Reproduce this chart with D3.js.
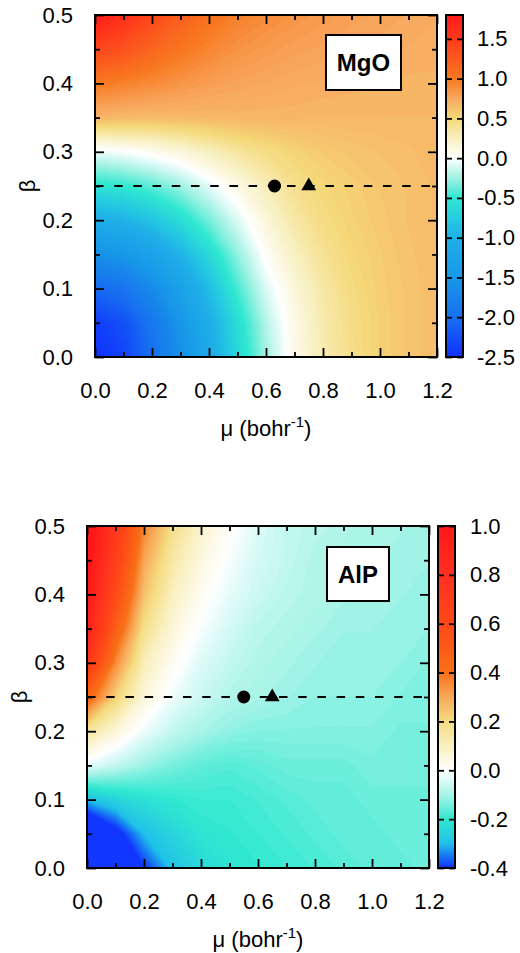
<!DOCTYPE html>
<html>
<head>
<meta charset="utf-8">
<script src="https://cdn.jsdelivr.net/npm/d3@7"></script>
<style>
  body { margin: 0; background: #fff; }
  text { font-family: "Liberation Sans", Arial, Helvetica, sans-serif; }
</style>
</head>
<body>
<svg id="chart" width="520" height="953"></svg>
<script>
// ---------------- DATA ----------------
const muValues   = [0.0, 0.1, 0.2, 0.3, 0.4, 0.5, 0.6, 0.7, 0.8, 0.9, 1.0, 1.1, 1.2];
const betaValues = [0.00, 0.05, 0.10, 0.15, 0.20, 0.25, 0.30, 0.35, 0.40, 0.45, 0.50];

// rows: beta = 0.00 ... 0.50, columns: mu = 0.0 ... 1.2
const mgoValues = [
  [-2.50, -2.35, -2.00, -1.60, -1.10, -0.65, -0.25, 0.08, 0.30, 0.44, 0.54, 0.60, 0.64],
  [-2.40, -2.25, -1.92, -1.52, -1.05, -0.60, -0.20, 0.10, 0.31, 0.45, 0.54, 0.60, 0.64],
  [-2.05, -1.95, -1.68, -1.30, -0.88, -0.45, -0.10, 0.15, 0.34, 0.47, 0.55, 0.60, 0.64],
  [-1.60, -1.50, -1.28, -0.98, -0.63, -0.28,  0.03, 0.24, 0.40, 0.50, 0.56, 0.61, 0.64],
  [-1.05, -0.98, -0.82, -0.60, -0.35, -0.10,  0.15, 0.34, 0.46, 0.53, 0.58, 0.62, 0.65],
  [-0.55, -0.50, -0.40, -0.26, -0.08,  0.10,  0.27, 0.42, 0.50, 0.55, 0.59, 0.62, 0.65],
  [-0.06, -0.02,  0.05,  0.14,  0.25,  0.36,  0.45, 0.52, 0.57, 0.60, 0.62, 0.64, 0.66],
  [ 0.68,  0.66,  0.65,  0.66,  0.67,  0.68,  0.68, 0.68, 0.67, 0.67, 0.67, 0.67, 0.67],
  [ 1.00,  0.95,  0.90,  0.85,  0.80,  0.77,  0.75, 0.73, 0.72, 0.71, 0.70, 0.69, 0.69],
  [ 1.40,  1.30,  1.15,  1.02,  0.93,  0.86,  0.82, 0.79, 0.77, 0.75, 0.74, 0.72, 0.71],
  [ 1.80,  1.60,  1.40,  1.20,  1.06,  0.96,  0.90, 0.85, 0.82, 0.79, 0.77, 0.75, 0.73]
];

const alpValues = [
  [-0.58, -0.55, -0.40, -0.29, -0.24, -0.21, -0.20, -0.19, -0.18, -0.17, -0.16, -0.16, -0.15],
  [-0.56, -0.43, -0.30, -0.25, -0.21, -0.20, -0.19, -0.18, -0.17, -0.16, -0.16, -0.15, -0.15],
  [-0.30, -0.25, -0.22, -0.20, -0.19, -0.19, -0.18, -0.17, -0.16, -0.16, -0.15, -0.15, -0.15],
  [-0.03, -0.07, -0.11, -0.14, -0.16, -0.17, -0.16, -0.15, -0.15, -0.15, -0.14, -0.14, -0.14],
  [ 0.16,  0.06, -0.02, -0.07, -0.10, -0.12, -0.13, -0.13, -0.13, -0.13, -0.13, -0.14, -0.14],
  [ 0.45,  0.22,  0.06, -0.02, -0.06, -0.09, -0.10, -0.11, -0.12, -0.12, -0.12, -0.13, -0.13],
  [ 0.72,  0.35,  0.11,  0.02, -0.04, -0.07, -0.09, -0.10, -0.11, -0.12, -0.12, -0.12, -0.13],
  [ 0.90,  0.48,  0.18,  0.06, -0.01, -0.05, -0.08, -0.09, -0.10, -0.11, -0.11, -0.12, -0.12],
  [ 0.98,  0.58,  0.25,  0.10,  0.02, -0.03, -0.06, -0.08, -0.09, -0.10, -0.11, -0.11, -0.12],
  [ 1.02,  0.66,  0.30,  0.14,  0.05, -0.01, -0.05, -0.07, -0.09, -0.10, -0.10, -0.11, -0.11],
  [ 1.05,  0.72,  0.36,  0.19,  0.08,  0.01, -0.04, -0.07, -0.08, -0.09, -0.10, -0.10, -0.11]
];

const muTickLabels   = ["0.0", "0.2", "0.4", "0.6", "0.8", "1.0", "1.2"];
const betaTickLabels = ["0.0", "0.1", "0.2", "0.3", "0.4", "0.5"];
const mgoBarLabels   = ["-2.5", "-2.0", "-1.5", "-1.0", "-0.5", "0.0", "0.5", "1.0", "1.5"];
const alpBarLabels   = ["-0.4", "-0.2", "0.0", "0.2", "0.4", "0.6", "0.8", "1.0"];
const mgoBarRange    = [-2.5, 1.8];
const alpBarRange    = [-0.4, 1.0];

const lineBeta       = 0.25;
const mgoCircleMu    = 0.63;
const mgoTriangleMu  = 0.75;
const alpCircleMu    = 0.55;
const alpTriangleMu  = 0.65;

const panelNames = ["MgO", "AlP"];

// ---------------- STYLE / LAYOUT ----------------
const mgoPalette = [
  [-2.5, "#1030ff"], [-2.0, "#1870f0"], [-1.5, "#1898e8"], [-1.0, "#20b0e8"],
  [-0.75, "#26cce0"], [-0.5, "#30e8d0"], [-0.25, "#a0f2e4"], [0.0, "#ffffff"],
  [0.25, "#f8f0c0"], [0.5, "#f5d878"], [0.75, "#f8a860"], [1.0, "#f87820"],
  [1.5, "#ff3a1c"], [1.8, "#ff1a1a"]
];
const alpPalette = [
  [-0.4, "#1030ff"], [-0.3, "#20c0e8"], [-0.2, "#30e8d0"], [-0.1, "#a8f4e8"],
  [0.0, "#ffffff"], [0.1, "#faf0c0"], [0.2, "#f5dc80"], [0.3, "#f8a858"],
  [0.4, "#f87018"], [0.6, "#ff4818"], [0.8, "#ff3020"], [1.0, "#ff1818"]
];

const svg = d3.select("#chart");
svg.append("rect").attr("width", 520).attr("height", 953).attr("fill", "#fff");

const panels = [
  { name: panelNames[0], grid: mgoValues, range: mgoBarRange, labels: mgoBarLabels, palette: mgoPalette,
    circleMu: mgoCircleMu, triMu: mgoTriangleMu,
    left: 95, top: 15, size: 342, cbX: 446, cbW: 17, cbPad: 14, betaX: 27,
    box: [231, 20, 75, 55] },
  { name: panelNames[1], grid: alpValues, range: alpBarRange, labels: alpBarLabels, palette: alpPalette,
    circleMu: alpCircleMu, triMu: alpTriangleMu,
    left: 87, top: 526, size: 342, cbX: 438, cbW: 17, cbPad: 15, betaX: 19,
    box: [240, 21, 62, 54] }
];

const FS = 22;

panels.forEach((p, pi) => {
  const x = d3.scaleLinear().domain([0, 1.2]).range([p.left, p.left + p.size]);
  const y = d3.scaleLinear().domain([0, 0.5]).range([p.top + p.size, p.top]);
  const color = d3.scaleLinear()
    .domain(p.palette.map(d => d[0]))
    .range(p.palette.map(d => d[1]))
    .interpolate(d3.interpolateRgb)
    .clamp(true);

  const g = svg.append("g");
  const clipId = "clip" + pi;
  svg.append("clipPath").attr("id", clipId)
    .append("rect").attr("x", p.left).attr("y", p.top).attr("width", p.size).attr("height", p.size);

  // ---- heat map via d3.contours ----
  const nx = muValues.length, ny = betaValues.length;
  const flat = [];
  for (let j = 0; j < ny; j++) for (let i = 0; i < nx; i++) flat.push(p.grid[j][i]);
  const lo = p.range[0], hi = p.range[1];
  const N = 160;
  const step = (hi - lo) / N;
  const base = Math.min(d3.min(flat), lo) - 1;
  const ts = [base].concat(d3.range(1, N).map(k => lo + k * step));
  const contours = d3.contours().size([nx, ny]).smooth(true).thresholds(ts)(flat);
  const dmu = muValues[1] - muValues[0];
  const dbeta = betaValues[1] - betaValues[0];
  const proj = d3.geoTransform({
    point: function (gx, gy) {
      this.stream.point(x(muValues[0] + (gx - 0.5) * dmu), y(betaValues[0] + (gy - 0.5) * dbeta));
    }
  });
  const path = d3.geoPath(proj);
  g.append("g").attr("clip-path", `url(#${clipId})`)
    .selectAll("path").data(contours).join("path")
    .attr("d", path)
    .attr("fill", (d, k) => color(k === 0 ? lo + step / 2 : d.value + step / 2))
    .attr("stroke", (d, k) => color(k === 0 ? lo + step / 2 : d.value + step / 2))
    .attr("stroke-width", 0.4);

  // ---- dashed line and markers ----
  g.append("line")
    .attr("x1", x(0)).attr("x2", x(1.2))
    .attr("y1", y(lineBeta)).attr("y2", y(lineBeta))
    .attr("stroke", "#000").attr("stroke-width", 2)
    .attr("stroke-dasharray", "8.5,10.7");
  g.append("circle")
    .attr("cx", x(p.circleMu)).attr("cy", y(lineBeta)).attr("r", 6.5).attr("fill", "#000");
  g.append("path")
    .attr("d", d3.symbol(d3.symbolTriangle).size(95)())
    .attr("transform", `translate(${x(p.triMu)},${y(lineBeta)})`)
    .attr("fill", "#000");

  // ---- axes (inward ticks on all sides) ----
  const majorMu = muTickLabels.map(Number);
  const minorMu = d3.range(0.1, 1.2, 0.2);
  const majorBeta = betaTickLabels.map(Number);
  const minorBeta = d3.range(0.05, 0.5, 0.1);
  const tickStyle = sel => {
    sel.select(".domain").remove();
    sel.selectAll("line").attr("stroke", "#000").attr("stroke-width", 1.8);
    sel.selectAll("text").attr("font-size", FS).attr("fill", "#000")
      .style("font-family", '"Liberation Sans", Arial, sans-serif');
  };
  const B = p.top + p.size, T = p.top, L = p.left, R = p.left + p.size;

  g.append("g").attr("transform", `translate(0,${B})`)
    .call(d3.axisBottom(x).tickValues(majorMu).tickFormat((d, i) => muTickLabels[i])
      .tickSizeInner(-9).tickSizeOuter(0).tickPadding(25.4)).call(tickStyle);
  g.append("g").attr("transform", `translate(0,${B})`)
    .call(d3.axisBottom(x).tickValues(minorMu).tickFormat("").tickSizeInner(-5).tickSizeOuter(0)).call(tickStyle);
  g.append("g").attr("transform", `translate(0,${T})`)
    .call(d3.axisTop(x).tickValues(majorMu).tickFormat("").tickSizeInner(-9).tickSizeOuter(0)).call(tickStyle);
  g.append("g").attr("transform", `translate(0,${T})`)
    .call(d3.axisTop(x).tickValues(minorMu).tickFormat("").tickSizeInner(-5).tickSizeOuter(0)).call(tickStyle);

  g.append("g").attr("transform", `translate(${L},0)`)
    .call(d3.axisLeft(y).tickValues(majorBeta).tickFormat((d, i) => betaTickLabels[i])
      .tickSizeInner(-9).tickSizeOuter(0).tickPadding(22)).call(tickStyle);
  g.append("g").attr("transform", `translate(${L},0)`)
    .call(d3.axisLeft(y).tickValues(minorBeta).tickFormat("").tickSizeInner(-5).tickSizeOuter(0)).call(tickStyle);
  g.append("g").attr("transform", `translate(${R},0)`)
    .call(d3.axisRight(y).tickValues(majorBeta).tickFormat("").tickSizeInner(-9).tickSizeOuter(0)).call(tickStyle);
  g.append("g").attr("transform", `translate(${R},0)`)
    .call(d3.axisRight(y).tickValues(minorBeta).tickFormat("").tickSizeInner(-5).tickSizeOuter(0)).call(tickStyle);

  // frame
  g.append("rect").attr("x", L).attr("y", T).attr("width", p.size).attr("height", p.size)
    .attr("fill", "none").attr("stroke", "#000").attr("stroke-width", 2);

  // ---- label box ----
  g.append("rect")
    .attr("x", L + p.box[0]).attr("y", T + p.box[1]).attr("width", p.box[2]).attr("height", p.box[3])
    .attr("fill", "#fff").attr("stroke", "#000").attr("stroke-width", 2);
  g.append("text")
    .attr("x", L + p.box[0] + p.box[2] / 2).attr("y", T + p.box[1] + p.box[3] / 2)
    .attr("dy", "0.36em").attr("text-anchor", "middle")
    .attr("font-size", 24).attr("font-weight", "bold").text(p.name);

  // ---- axis titles ----
  const xt = g.append("text")
    .attr("x", (L + R) / 2).attr("y", B + 79)
    .attr("text-anchor", "middle").attr("font-size", FS);
  xt.append("tspan").text("\u03BC (bohr");
  xt.append("tspan").attr("font-size", 15).attr("dy", -9).text("-1");
  xt.append("tspan").attr("dy", 9).text(")");

  g.append("text")
    .attr("transform", `translate(${p.betaX},${(T + B) / 2}) rotate(-90)`)
    .attr("text-anchor", "middle").attr("dy", "0.35em")
    .attr("font-size", FS).text("\u03B2");

  // ---- colour bar ----
  const cy = d3.scaleLinear().domain(p.range).range([B, T]);
  const gradId = "grad" + pi;
  const grad = svg.append("defs").append("linearGradient").attr("id", gradId)
    .attr("x1", 0).attr("y1", 1).attr("x2", 0).attr("y2", 0);
  p.palette.forEach(([v, c]) => {
    grad.append("stop").attr("offset", (v - lo) / (hi - lo)).attr("stop-color", c);
  });
  g.append("rect").attr("x", p.cbX).attr("y", T).attr("width", p.cbW).attr("height", p.size)
    .attr("fill", `url(#${gradId})`);
  const barVals = p.labels.map(Number);
  g.append("g").attr("transform", `translate(${p.cbX + p.cbW},0)`)
    .call(d3.axisRight(cy).tickValues(barVals).tickFormat((d, i) => p.labels[i])
      .tickSizeInner(-6).tickSizeOuter(0).tickPadding(p.cbPad)).call(tickStyle);
  g.append("g").attr("transform", `translate(${p.cbX},0)`)
    .call(d3.axisLeft(cy).tickValues(barVals).tickFormat("")
      .tickSizeInner(-6).tickSizeOuter(0)).call(tickStyle);
  g.append("rect").attr("x", p.cbX).attr("y", T).attr("width", p.cbW).attr("height", p.size)
    .attr("fill", "none").attr("stroke", "#000").attr("stroke-width", 2);
});
</script>
</body>
</html>
